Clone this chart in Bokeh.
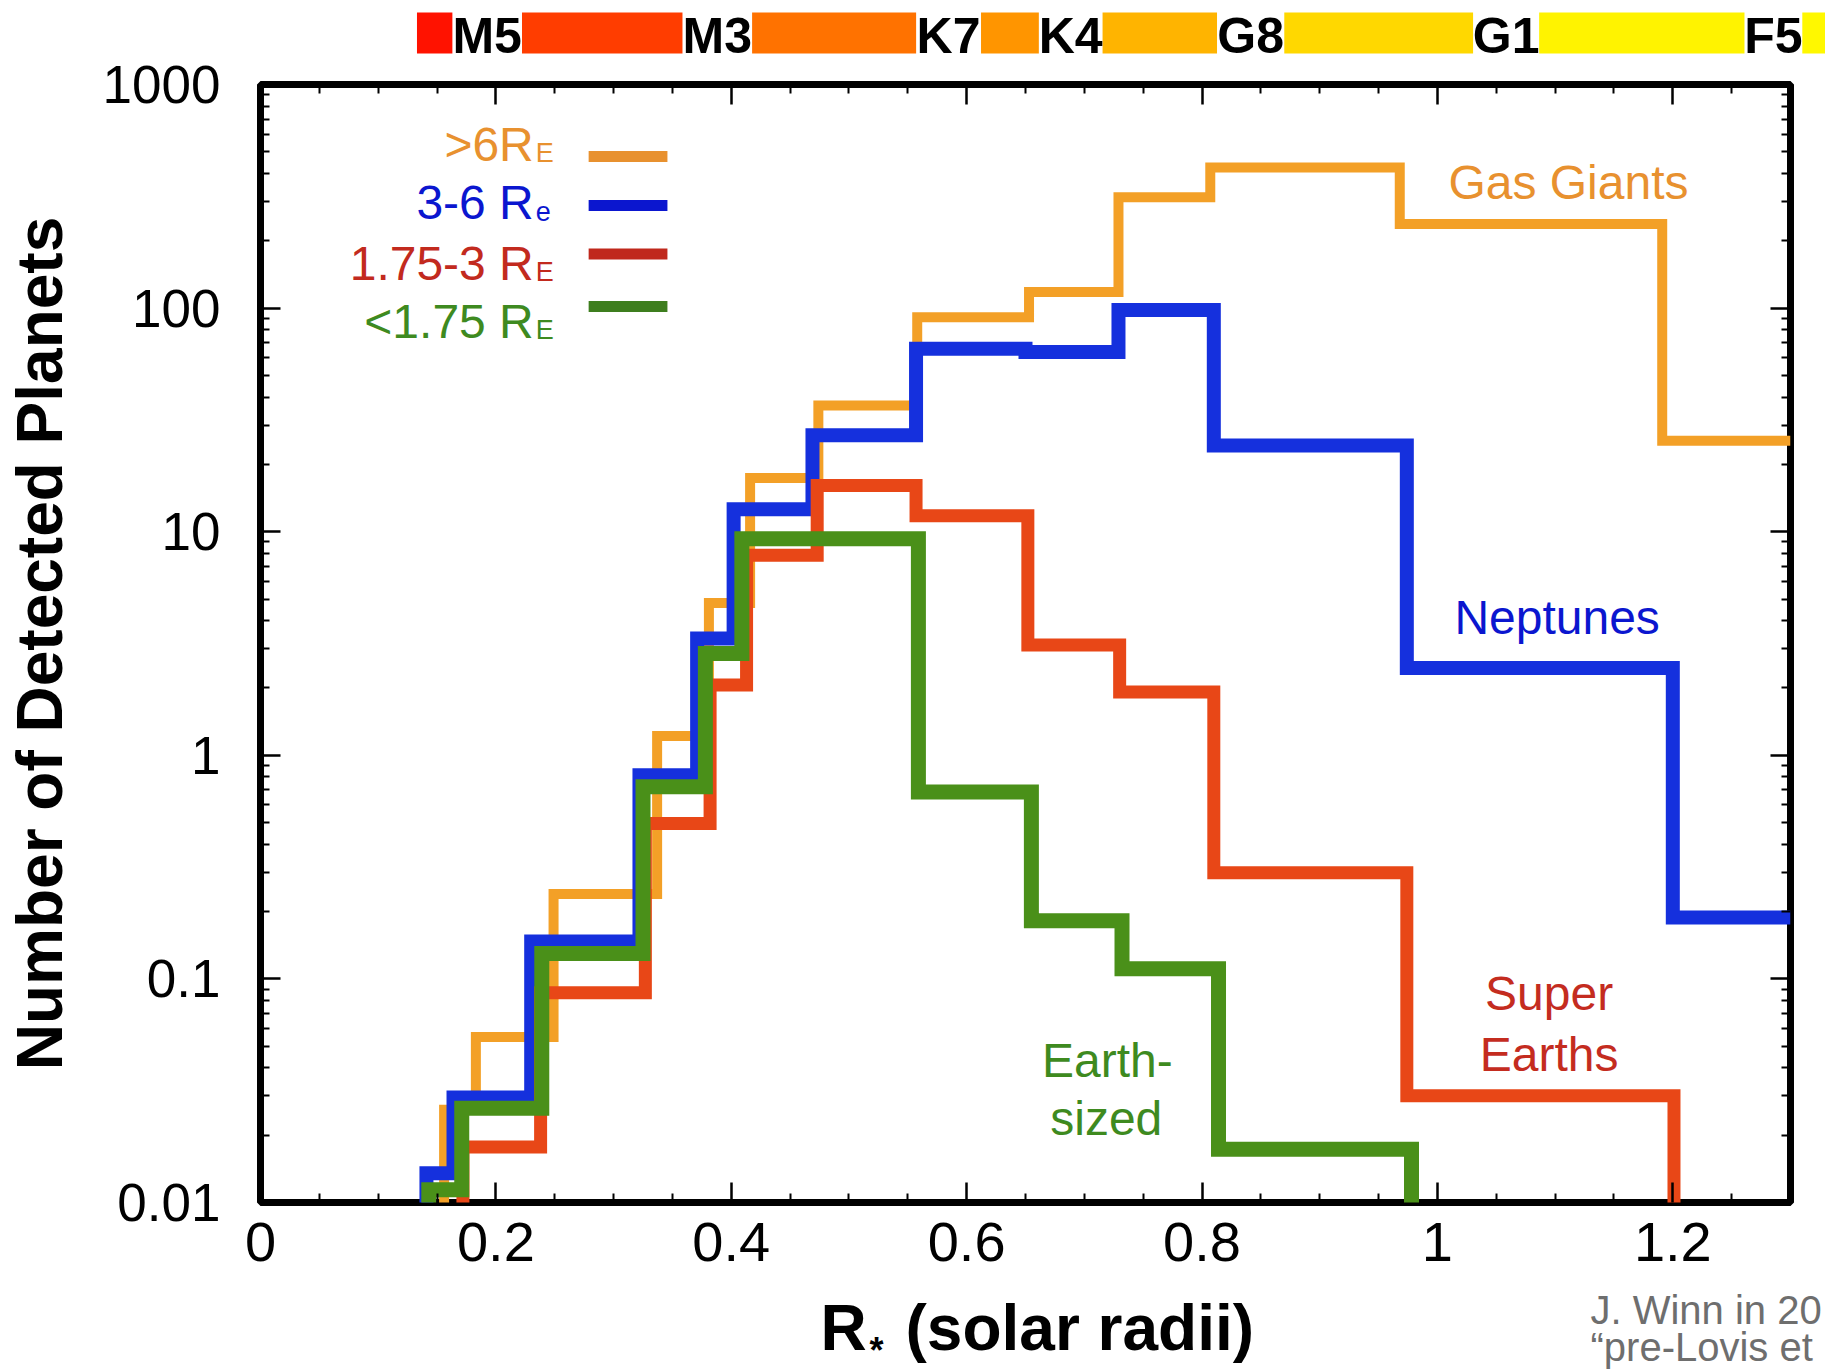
from bokeh.plotting import figure
from bokeh.models import (Range1d, FixedTicker, LinearAxis, LogAxis, Label,
                          ColumnDataSource, CustomJSTickFormatter)
from bokeh.layouts import column
from bokeh.embed import file_html
from bokeh.resources import INLINE
from bokeh.core.properties import value

# ---------------- data ----------------
# stellar radius bin edges (solar radii) and number of detected planets
giant_edges = [0.156, 0.183, 0.249, 0.337, 0.381, 0.416, 0.474, 0.558, 0.653, 0.729, 0.807, 0.968, 1.191, 1.30]
giant_counts = [0.026, 0.055, 0.24, 1.22, 4.8, 17.4, 36.7, 91, 118, 313, 425, 238, 25.5]

neptune_edges = [0.141, 0.164, 0.230, 0.322, 0.371, 0.402, 0.469, 0.557, 0.650, 0.729, 0.810, 0.974, 1.200, 1.30]
neptune_counts = [0.0135, 0.0295, 0.147, 0.815, 3.33, 12.6, 27.0, 65.8, 63.6, 98, 24.3, 2.46, 0.188]

superearth_edges = [0.172, 0.238, 0.327, 0.382, 0.413, 0.473, 0.557, 0.652, 0.730, 0.810, 0.974, 1.201]
superearth_counts = [0.0177, 0.0867, 0.495, 2.06, 7.84, 16.1, 11.8, 3.11, 1.92, 0.298, 0.030]

earth_edges = [0.143, 0.171, 0.239, 0.325, 0.378, 0.409, 0.559, 0.655, 0.732, 0.814, 0.978]
earth_counts = [0.0114, 0.0264, 0.130, 0.723, 2.85, 9.3, 0.685, 0.182, 0.111, 0.0173]

legend_texts = [">6R", "3-6 R", "1.75-3 R", "<1.75 R"]
legend_subs = ["E", "e", "E", "E"]

x_major = [0, 0.2, 0.4, 0.6, 0.8, 1.0, 1.2]
y_major = [0.01, 0.1, 1, 10, 100, 1000]

# spectral-type colour strip
spectral_types = ["M5", "M3", "K7", "K4", "G8", "G1", "F5"]
type_left = [0.166, 0.361, 0.559, 0.663, 0.814, 1.031, 1.261]
type_right = [0.225, 0.420, 0.614, 0.717, 0.871, 1.087, 1.310]
band_left = [0.136, 0.225, 0.420, 0.614, 0.717, 0.871, 1.087, 1.310]
band_right = [0.166, 0.361, 0.559, 0.663, 0.814, 1.031, 1.261, 1.34]
band_colors = ["#FF1200", "#FF3D00", "#FF7200", "#FF9500", "#FFB400", "#FFD800", "#FFF300", "#FFF800"]

# ---------------- layout helpers ----------------
FONT = "Liberation Sans"
W, H = 1825, 1370
FL, FR, FT, FB = 256, 1790, 84, 1202           # frame edges on the page
STRIP_H = FT                                   # colour strip figure: page 0..84
MAIN_Y = 40                                    # main figure canvas starts here (overlaps strip, transparent)
BOTTOM_Y = 1287                                # where the bottom (title) figure starts
XMIN, XMAX = 0.0, 1.3
YMIN_LOG, YMAX_LOG = -2, 3
STRIP_TOP, STRIP_BOT = 12, 53                  # strip band, page pixels
MID = 0.3465                                   # em-box middle above the baseline


def dx(px):
    return XMIN + (px - FL) / (FR - FL) * (XMAX - XMIN)


def dy(py):
    return 10 ** (YMAX_LOG - (py - FT) / (FB - FT) * (YMAX_LOG - YMIN_LOG))


FLOOR = 1e-3


def step_xy(edges, vals, drop):
    xs, ys = [edges[0]], [FLOOR]
    for i, v in enumerate(vals):
        xs += [edges[i], edges[i + 1]]
        ys += [v, v]
    if drop:
        xs.append(edges[-1])
        ys.append(FLOOR)
    return xs, ys


def no_align(fig):
    try:
        fig.frame_align = False
    except Exception:
        pass


# ---------------- colour strip figure ----------------
strip = figure(width=W, height=STRIP_H, output_backend="svg", toolbar_location=None,
               x_range=Range1d(dx(0), dx(W)), y_range=Range1d(STRIP_H, 0),
               min_border_left=0, min_border_right=0, min_border_top=0, min_border_bottom=0)
no_align(strip)
strip.axis.visible = False
strip.grid.visible = False
strip.outline_line_color = None
strip.background_fill_color = "white"
strip.border_fill_color = "white"
strip.quad(left=band_left, right=band_right, bottom=STRIP_BOT, top=STRIP_TOP,
           fill_color=band_colors, line_color=None)
tsrc = ColumnDataSource(dict(x=[(a + b) / 2 for a, b in zip(type_left, type_right)],
                             y=[53 - MID * 50] * len(spectral_types), t=spectral_types))
strip.text(x="x", y="y", text="t", source=tsrc, text_align="center", text_baseline="middle",
           text_font=value(FONT), text_font_style="bold", text_font_size="50px", text_color="black")

# ---------------- main figure ----------------
p = figure(width=W, height=BOTTOM_Y - MAIN_Y, output_backend="svg", toolbar_location=None,
           x_range=Range1d(XMIN, XMAX), y_range=Range1d(10 ** YMIN_LOG, 10 ** YMAX_LOG),
           y_axis_type="log",
           min_border_left=FL, min_border_right=W - FR,
           min_border_top=FT - MAIN_Y, min_border_bottom=BOTTOM_Y - FB)
no_align(p)
p.styles = {"margin-top": f"-{STRIP_H - MAIN_Y}px"}
p.grid.visible = False
p.background_fill_color = "white"
p.border_fill_color = None
p.outline_line_color = "black"
p.outline_line_width = 7

x_minor = [round(0.05 * i, 2) for i in range(0, 27) if i % 4]
y_minor = [k * 10.0 ** e for e in range(-2, 3) for k in range(2, 10)]
xt = FixedTicker(ticks=x_major, minor_ticks=x_minor)
yt = FixedTicker(ticks=y_major, minor_ticks=y_minor)


def style_axis(ax, show_labels, size="52px", standoff=40):
    ax.axis_line_color = None
    ax.major_tick_in = 20
    ax.major_tick_out = 0
    ax.minor_tick_in = 9
    ax.minor_tick_out = 0
    ax.major_tick_line_width = 2.5
    ax.minor_tick_line_width = 2
    ax.major_tick_line_color = "black"
    ax.minor_tick_line_color = "black"
    ax.major_label_text_font = FONT
    ax.major_label_text_font_size = size
    ax.major_label_standoff = standoff
    ax.major_label_text_color = "black" if show_labels else None


xa = p.xaxis[0]
xa.ticker = xt
xa.formatter = CustomJSTickFormatter(code="return String(Math.round(tick*10)/10)")
style_axis(xa, True, "56px", 20)

ya = p.yaxis[0]
ya.ticker = yt
ya.formatter = CustomJSTickFormatter(
    code="return tick >= 1 ? tick.toFixed(0) : String(parseFloat(tick.toPrecision(3)))")
style_axis(ya, True, "53px", 40)
ya.axis_label = "Number of Detected Planets"
ya.axis_label_text_font = FONT
ya.axis_label_text_font_style = "bold"
ya.axis_label_text_font_size = "64px"
ya.axis_label_text_color = "black"
ya.axis_label_standoff = 24

top_ax = LinearAxis(ticker=xt, formatter=CustomJSTickFormatter(code="return ''"))
style_axis(top_ax, False, "8px", 0)
p.add_layout(top_ax, "above")
right_ax = LogAxis(ticker=yt, formatter=CustomJSTickFormatter(code="return ''"))
style_axis(right_ax, False, "8px", 0)
p.add_layout(right_ax, "right")

# step histograms
series = [
    (giant_edges, giant_counts, False, "#F3A027", 10),
    (neptune_edges, neptune_counts, False, "#1530DD", 14),
    (superearth_edges, superearth_counts, True, "#E84717", 13),
    (earth_edges, earth_counts, True, "#4A9019", 15),
]
for edges, vals, drop, col, lw in series:
    xs, ys = step_xy(edges, vals, drop)
    p.line(xs, ys, line_color=col, line_width=lw, line_join="miter", line_cap="butt")


def label(fig, txt, px, base, size, color, align="left", bold=False):
    fig.add_layout(Label(x=dx(px), y=dy(base - MID * size), text=txt, text_align=align,
                         text_baseline="middle", text_font=FONT,
                         text_font_style="bold" if bold else "normal",
                         text_font_size=f"{size}px", text_color=color))


# legend (text right-aligned, swatch to the right)
leg_text_colors = ["#E8912F", "#0B16CF", "#C22A1E", "#3E8A20"]
leg_swatch_colors = ["#E8912F", "#0B16CF", "#C0281C", "#3E7E1E"]
leg_baselines = [161, 219, 280, 338]
leg_swatch_y = [156, 205, 253.5, 306]
for txt, sub, tc, sc, bl, sy in zip(legend_texts, legend_subs, leg_text_colors,
                                    leg_swatch_colors, leg_baselines, leg_swatch_y):
    label(p, txt, 530, bl, 48, tc, "right")
    label(p, sub, 532, bl + 1, 27, tc, "left")
    p.segment(x0=[dx(585)], x1=[dx(664)], y0=[dy(sy)], y1=[dy(sy)], line_color=sc, line_width=11)

# curve annotations
notes = [
    ("Gas Giants", 1447, 199, "left", "#E8912F"),
    ("Neptunes", 1453, 634, "left", "#0B16CF"),
    ("Super", 1548, 1010, "center", "#C42C1F"),
    ("Earths", 1548, 1071, "center", "#C42C1F"),
    ("Earth-", 1105, 1077, "center", "#3E8A1F"),
    ("sized", 1104, 1135, "center", "#3E8A1F"),
]
for txt, px, bl, al, col in notes:
    label(p, txt, px, bl, 48, col, al)

# ---------------- bottom figure: x-axis title and credit ----------------
bot = figure(width=W, height=H - BOTTOM_Y, output_backend="svg", toolbar_location=None,
             x_range=Range1d(dx(0), dx(W)), y_range=Range1d(H, BOTTOM_Y),
             min_border_left=0, min_border_right=0, min_border_top=0, min_border_bottom=0)
no_align(bot)
bot.axis.visible = False
bot.grid.visible = False
bot.outline_line_color = None
bot.background_fill_color = "white"
bot.border_fill_color = "white"

title_parts = ["R", "*", "(solar radii)"]
title_px = [820, 876, 905]
title_base = [1350, 1362, 1350]
title_size = [64, 36, 64]
title_align = ["left", "center", "left"]
for txt, px, bl, sz, al in zip(title_parts, title_px, title_base, title_size, title_align):
    bot.text(x=[dx(px)], y=[bl - MID * sz], text=[txt], text_align=al, text_baseline="middle",
             text_font=value(FONT), text_font_style="bold", text_font_size=f"{sz}px",
             text_color="black")

credit_lines = ["J. Winn in 20", "\u201cpre-Lovis et"]
credit_base = [1323.5, 1360]
for txt, bl in zip(credit_lines, credit_base):
    bot.text(x=[dx(1590)], y=[bl - MID * 40], text=[txt], text_align="left", text_baseline="middle",
             text_font=value(FONT), text_font_size="40px", text_color="#6E6E6E")

layout = column(strip, p, bot, spacing=0)
open("out.html", "w").write(file_html(layout, INLINE))
